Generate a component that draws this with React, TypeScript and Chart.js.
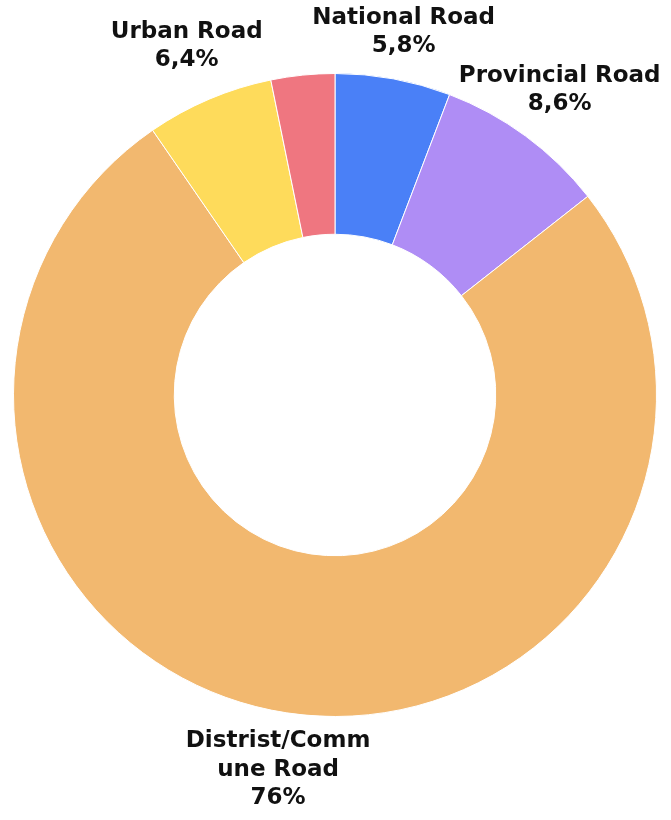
import React, { useEffect, useRef } from "react";
import { Chart, registerables } from "chart.js";

Chart.register(...registerables);

const categories = ["National Road", "Provincial Road", "Distrist/Commune Road", "Urban Road", "Other"];
const values = [5.8, 8.6, 76, 6.4, 3.2];
const labelLines: string[][] = [
  ["National Road", "5,8%"],
  ["Provincial Road", "8,6%"],
  ["Distrist/Comm", "une Road", "76%"],
  ["Urban Road", "6,4%"],
  [],
];
const colors = ["#4A80F7", "#AF8DF5", "#F2B86F", "#FEDB5B", "#EF7680"];

const FONT = "700 23px 'DejaVu Sans', sans-serif";
const LINE_H = 28.5;
const LABEL_DIST = 379;
const MIN_FIRST_LINE_Y = 18;

const outerLabels = {
  id: "outerLabels",
  afterDatasetsDraw(chart: any) {
    const ctx = chart.ctx;
    const meta = chart.getDatasetMeta(0);
    ctx.save();
    ctx.font = FONT;
    ctx.fillStyle = "#111";
    ctx.textAlign = "center";
    ctx.textBaseline = "middle";
    meta.data.forEach((arc: any, i: number) => {
      const lines = labelLines[i];
      if (!lines || !lines.length) return;
      const p = arc.getProps(["startAngle", "endAngle", "x", "y"], true);
      const mid = (p.startAngle + p.endAngle) / 2;
      const cx = p.x + Math.cos(mid) * LABEL_DIST;
      const cy = p.y + Math.sin(mid) * LABEL_DIST;
      let top = cy - ((lines.length - 1) * LINE_H) / 2;
      if (top < MIN_FIRST_LINE_Y) top = MIN_FIRST_LINE_Y;
      lines.forEach((t, j) => ctx.fillText(t, cx, top + j * LINE_H));
    });
    ctx.restore();
  },
};

export default function App() {
  const ref = useRef<HTMLCanvasElement>(null);
  useEffect(() => {
    if (!ref.current) return;
    const chart = new Chart(ref.current, {
      type: "doughnut",
      data: {
        labels: categories,
        datasets: [
          {
            data: values,
            backgroundColor: colors,
            borderColor: "#ffffff",
            borderWidth: 1,
          },
        ],
      },
      options: {
        animation: false,
        responsive: true,
        maintainAspectRatio: false,
        cutout: "50%",
        layout: { padding: { left: 13, right: 14, top: 73, bottom: 103 } },
        plugins: {
          legend: { display: false },
          tooltip: { enabled: false },
        },
      },
      plugins: [outerLabels],
    });
    return () => chart.destroy();
  }, []);
  return (
    <div style={{ position: "absolute", left: 0, top: 0, width: 671, height: 820, background: "#fff" }}>
      <canvas ref={ref} />
    </div>
  );
}
